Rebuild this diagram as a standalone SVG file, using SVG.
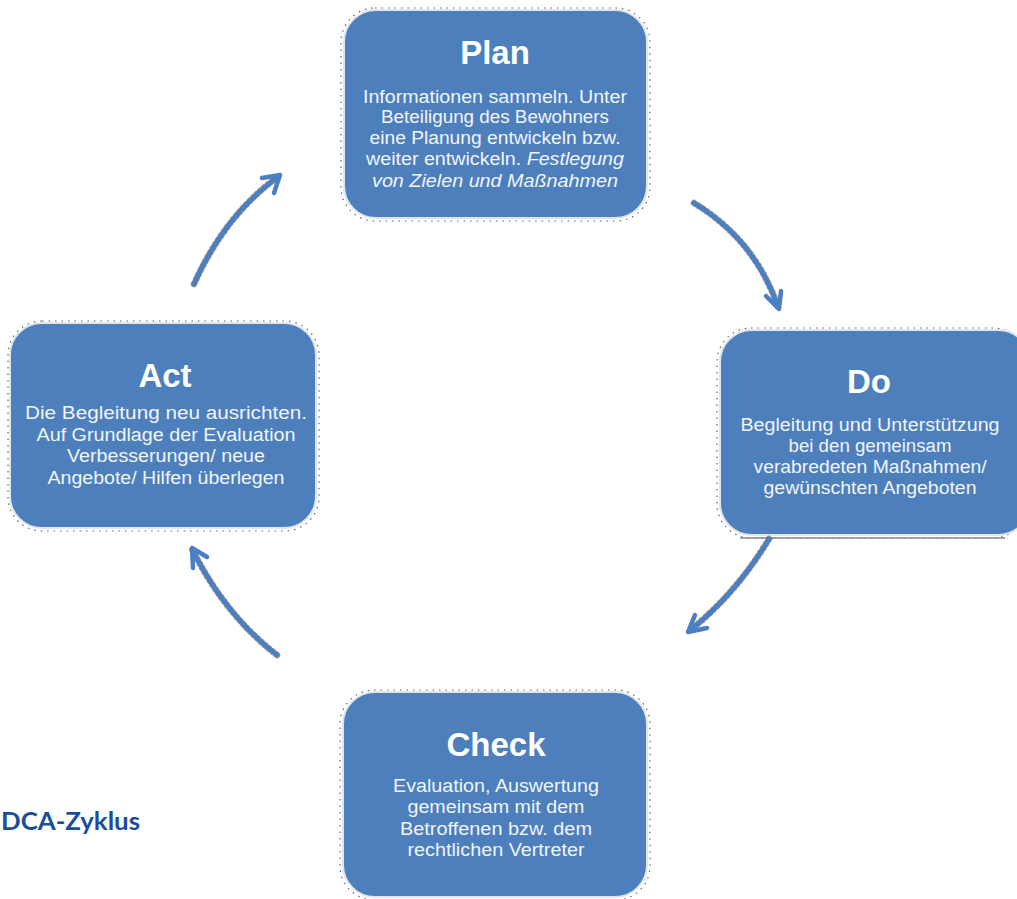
<svg xmlns="http://www.w3.org/2000/svg" width="1017" height="899" viewBox="0 0 1017 899">
<style>
.box{fill:#4c7fbc;stroke:#dfe6ef;stroke-width:2}
.sh{fill:none;stroke:#666;stroke-width:1.2;stroke-dasharray:1.5 5}
.t{font-family:"Liberation Sans",Arial,sans-serif;font-weight:bold;font-size:33px;fill:#fff;text-anchor:middle}
.b{font-family:"Liberation Sans",Arial,sans-serif;font-size:18px;fill:#f2f5fa;text-anchor:middle}
.arr{fill:none;stroke:#4a7fc4;stroke-width:4.5;stroke-linecap:round}
.arro{fill:none;stroke:#333;stroke-width:6.5;stroke-linecap:round;stroke-dasharray:1 4;opacity:.55}
.head{fill:none;stroke:#4a7fc4;stroke-width:4.5;stroke-linecap:round;stroke-linejoin:round}
</style>
<rect width="1017" height="899" fill="#fff"/>
<g id="plan">
<rect class="sh" x="341" y="8" width="309" height="213" rx="34"/>
<rect class="box" x="344" y="10" width="303" height="208" rx="32"/>
<text class="t" x="495" y="64">Plan</text>
<text class="b" x="495" y="103" textLength="264" lengthAdjust="spacingAndGlyphs">Informationen sammeln. Unter</text>
<text class="b" x="495" y="123" textLength="228" lengthAdjust="spacingAndGlyphs">Beteiligung des Bewohners</text>
<text class="b" x="495" y="144" textLength="251" lengthAdjust="spacingAndGlyphs">eine Planung entwickeln bzw.</text>
<text class="b" x="495" y="165" textLength="258" lengthAdjust="spacingAndGlyphs"><tspan>weiter entwickeln. </tspan><tspan font-style="italic">Festlegung</tspan></text>
<text class="b" x="495" y="187" font-style="italic" textLength="246" lengthAdjust="spacingAndGlyphs">von Zielen und Maßnahmen</text>
</g>
<g id="do">
<rect class="sh" x="717" y="328" width="310" height="210" rx="34"/>
<rect class="box" x="720" y="330" width="310" height="205" rx="32"/>
<line x1="740" y1="538" x2="1005" y2="538" stroke="#888" stroke-width="1.5"/>
<text class="t" x="869" y="393">Do</text>
<text class="b" x="870" y="431" textLength="259" lengthAdjust="spacingAndGlyphs">Begleitung und Unterstützung</text>
<text class="b" x="870" y="452" textLength="163" lengthAdjust="spacingAndGlyphs">bei den gemeinsam</text>
<text class="b" x="870" y="473" textLength="233" lengthAdjust="spacingAndGlyphs">verabredeten Maßnahmen/</text>
<text class="b" x="870" y="494" textLength="213" lengthAdjust="spacingAndGlyphs">gewünschten Angeboten</text>
</g>
<g id="act">
<rect class="sh" x="8" y="321" width="311" height="210" rx="34"/>
<rect class="box" x="10" y="323" width="306" height="205" rx="32"/>
<text class="t" x="165" y="387">Act</text>
<text class="b" x="166" y="419" textLength="282" lengthAdjust="spacingAndGlyphs">Die Begleitung neu ausrichten.</text>
<text class="b" x="166" y="441" textLength="259" lengthAdjust="spacingAndGlyphs">Auf Grundlage der Evaluation</text>
<text class="b" x="166" y="462" textLength="198" lengthAdjust="spacingAndGlyphs">Verbesserungen/ neue</text>
<text class="b" x="166" y="484" textLength="237" lengthAdjust="spacingAndGlyphs">Angebote/ Hilfen überlegen</text>
</g>
<g id="check">
<rect class="sh" x="340" y="690" width="310" height="210" rx="34"/>
<rect class="box" x="343" y="692" width="304" height="205" rx="32"/>
<text class="t" x="496" y="756">Check</text>
<text class="b" x="496" y="792" textLength="206" lengthAdjust="spacingAndGlyphs">Evaluation, Auswertung</text>
<text class="b" x="496" y="813" textLength="177" lengthAdjust="spacingAndGlyphs">gemeinsam mit dem</text>
<text class="b" x="496" y="835" textLength="192" lengthAdjust="spacingAndGlyphs">Betroffenen bzw. dem</text>
<text class="b" x="496" y="856" textLength="177" lengthAdjust="spacingAndGlyphs">rechtlichen Vertreter</text>
</g>
<g id="connectors">
<path class="arro" d="M194 284 Q225 215 279 176"/>
<path class="arr" d="M194 284 Q225 215 279 176"/>
<path class="head" d="M262 178 L280 175 L274 193"/>
<path class="arro" d="M694 203 Q755 240 778 307"/>
<path class="arr" d="M694 203 Q755 240 778 307"/>
<path class="head" d="M766 296 L779 309 L781 291"/>
<path class="arro" d="M769 539 Q735 595 689 631"/>
<path class="arr" d="M769 539 Q735 595 689 631"/>
<path class="head" d="M695 615 L688 632 L707 628"/>
<path class="arro" d="M277 655 Q225 615 192 549"/>
<path class="arr" d="M277 655 Q225 615 192 549"/>
<path class="head" d="M193 568 L192 548 L207 557"/>
</g>
<text x="1" y="830" font-family="Lato,'Liberation Sans',sans-serif" font-weight="bold" font-size="24" fill="#1a4d9a" textLength="139" lengthAdjust="spacingAndGlyphs">DCA-Zyklus</text>
</svg>
